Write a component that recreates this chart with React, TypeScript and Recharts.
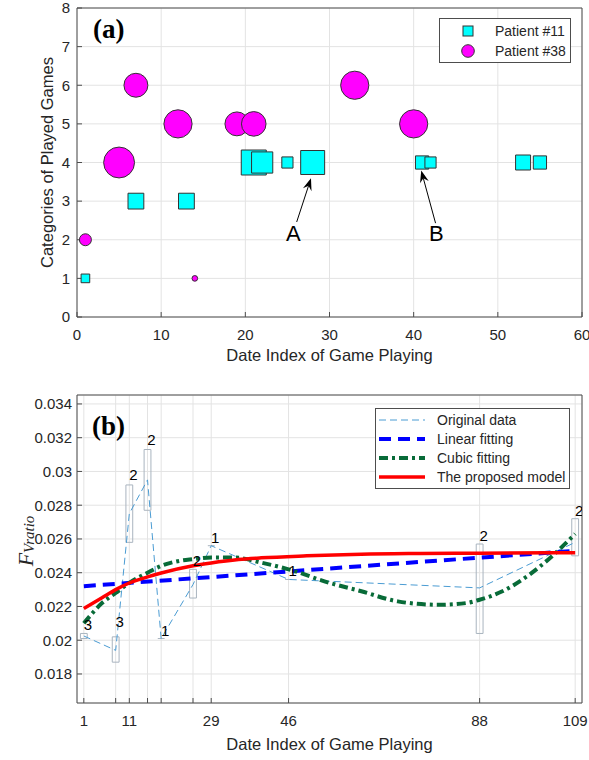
import React from 'react';
import {
  ScatterChart,
  ComposedChart,
  Scatter,
  Line,
  XAxis,
  YAxis,
  ZAxis,
  CartesianGrid,
  ReferenceArea,
  ReferenceLine,
  ReferenceDot,
} from 'recharts';

const FONT = '"Liberation Sans", Arial, sans-serif';
const SERIF = '"Liberation Serif", "Times New Roman", serif';
const AXIS = '#4d4d4d';
const GRID = '#e3e3e3';
const INK = '#262626';

// ---- panel (a): categories of played games ----
const xTicksA = [0, 10, 20, 30, 40, 50, 60];
const yTicksA = [0, 1, 2, 3, 4, 5, 6, 7, 8];

const p11Date = [1, 7, 13, 21, 22, 25, 28, 41, 42, 53, 55];
const p11Category = [1, 3, 3, 4, 4, 4, 4, 4, 4, 4, 4];
const p11Weight = [3, 10, 10, 25, 18, 5, 23, 7, 5, 9, 7];

const p38Date = [1, 5, 7, 12, 14, 19, 21, 33, 40];
const p38Category = [2, 4, 6, 5, 1, 5, 5, 6, 5];
const p38Weight = [4.5, 30, 18, 25, 1, 18, 19, 25, 25];

const notes = [
  { text: 'A', tail: [26.1, 2.46], tip: [27.8, 3.59], at: [25.7, 2.17] },
  { text: 'B', tail: [42.6, 2.43], tip: [40.9, 3.79], at: [42.7, 2.17] },
];

// ---- panel (b): F_Vratio per date index ----
const dateIdx = [1, 8, 11, 15, 18, 25, 29, 46, 88, 109];
const labeledDates = [1, 11, 29, 46, 88, 109];
const yTicksB = [0.018, 0.02, 0.022, 0.024, 0.026, 0.028, 0.03, 0.032, 0.034];

const sessionCount = [3, 3, 2, 2, 1, 2, 1, 1, 2, 2];
const fRatio = [0.02025, 0.0194, 0.0275, 0.0295, 0.0201, 0.0233, 0.0256, 0.0236, 0.0231, 0.0258];
const fLow = [0.0201, 0.0187, 0.0258, 0.0277, 0.0201, 0.0225, 0.0256, 0.0236, 0.0204, 0.025];
const fHigh = [0.0204, 0.0202, 0.0292, 0.0313, 0.0201, 0.0242, 0.0256, 0.0236, 0.0257, 0.0272];
const fMax = [0.0204, 0.0206, 0.0293, 0.0314, 0.0201, 0.0242, 0.0256, 0.0236, 0.0257, 0.0272];

const linearX = [1, 109];
const linearY = [0.0232, 0.0253];

const cubicX = [1, 5, 8, 11, 15, 18, 22, 25, 29, 34, 40, 46, 55, 62, 70, 79, 85, 88, 93, 99, 104, 109];
const cubicY = [
  0.021, 0.0222, 0.0228, 0.0234, 0.024, 0.0244, 0.0247, 0.0248, 0.0249, 0.0249, 0.0246, 0.0242,
  0.0234, 0.0229, 0.0223, 0.0221, 0.0222, 0.0224, 0.0229, 0.0239, 0.025, 0.0263,
];

const modelX = [1, 5, 8, 11, 15, 18, 25, 29, 35, 40, 50, 62, 75, 88, 109];
const modelY = [
  0.02188, 0.02252, 0.023, 0.02339, 0.02375, 0.02398, 0.02441, 0.02458, 0.02478, 0.02488, 0.025,
  0.0251, 0.02514, 0.02516, 0.02518,
];

const p11 = p11Date.map((x, i) => ({ x, y: p11Category[i], z: p11Weight[i] }));
const p38 = p38Date.map((x, i) => ({ x, y: p38Category[i], z: p38Weight[i] }));

const original = dateIdx.map((x, i) => ({ x, y: fRatio[i] }));
const countMarks = dateIdx.map((x, i) => ({ x, y: fMax[i], n: sessionCount[i] }));
const linear = linearX.map((x, i) => ({ x, y: linearY[i] }));
const cubic = cubicX.map((x, i) => ({ x, y: cubicY[i] }));
const model = modelX.map((x, i) => ({ x, y: modelY[i] }));

const tickStyle = { fill: INK, fontSize: 15, fontFamily: FONT };
const TITLE = 16.5;

const Arrow = (p: any) => {
  const { x1, y1, x2, y2 } = p;
  const a = Math.atan2(y2 - y1, x2 - x1);
  const L = 12;
  const W = 4.5;
  const cos = Math.cos(a);
  const sin = Math.sin(a);
  const bx = x2 - L * cos;
  const by = y2 - L * sin;
  const nx = bx + 0.35 * L * cos;
  const ny = by + 0.35 * L * sin;
  return (
    <g>
      <line x1={x1} y1={y1} x2={nx} y2={ny} stroke="#000" strokeWidth={1} />
      <polygon
        points={`${x2},${y2} ${bx - sin * W},${by + cos * W} ${nx},${ny} ${bx + sin * W},${by - cos * W}`}
        fill="#000"
      />
    </g>
  );
};

const CountLabel = (p: any) => (
  <text x={p.cx + 4} y={p.cy - 3} textAnchor="middle" fontSize={15} fill="#000" fontFamily={FONT}>
    {p.payload.n}
  </text>
);

function PanelA() {
  return (
    <ScatterChart width={589} height={375} margin={{ top: 7, right: 6, bottom: 8, left: 17 }}>
      <CartesianGrid stroke={GRID} />
      <XAxis
        type="number"
        dataKey="x"
        domain={[0, 60]}
        allowDataOverflow
        ticks={xTicksA}
        interval={0}
        stroke={AXIS}
        tick={tickStyle}
        tickSize={-5}
        tickMargin={17}
        height={50}
        label={(p: any) => (
          <text
            x={p.viewBox.x + p.viewBox.width / 2}
            y={p.viewBox.y + 44}
            textAnchor="middle"
            fontSize={TITLE}
            fill={INK}
            fontFamily={FONT}
          >
            Date Index of Game Playing
          </text>
        )}
      />
      <XAxis
        xAxisId="top"
        orientation="top"
        type="number"
        domain={[0, 60]}
        allowDataOverflow
        ticks={xTicksA}
        interval={0}
        height={1}
        stroke={AXIS}
        tick={false}
        tickSize={-5}
      />
      <YAxis
        type="number"
        dataKey="y"
        domain={[0, 8]}
        allowDataOverflow
        ticks={yTicksA}
        interval={0}
        width={60}
        stroke={AXIS}
        tick={tickStyle}
        tickSize={-5}
        tickMargin={12}
        label={(p: any) => {
          const x = p.viewBox.x + 30;
          const y = p.viewBox.y + p.viewBox.height / 2;
          return (
            <text
              x={x}
              y={y}
              transform={`rotate(-90 ${x} ${y})`}
              textAnchor="middle"
              dominantBaseline="central"
              fontSize={TITLE}
              fill={INK}
              fontFamily={FONT}
            >
              Categories of Played Games
            </text>
          );
        }}
      />
      <YAxis
        yAxisId="right"
        orientation="right"
        type="number"
        domain={[0, 8]}
        allowDataOverflow
        ticks={yTicksA}
        interval={0}
        width={1}
        stroke={AXIS}
        tick={false}
        tickSize={-5}
      />
      <ZAxis type="number" dataKey="z" domain={[0, 30]} range={[0, 750]} />
      <Scatter data={p11} shape="square" fill="#00ffff" stroke="#333" strokeWidth={1} isAnimationActive={false} />
      <Scatter data={p38} shape="circle" fill="#ff00ff" stroke="#333" strokeWidth={1} isAnimationActive={false} />
      {notes.map((n) => (
        <ReferenceLine
          key={'l' + n.text}
          segment={[
            { x: n.tail[0], y: n.tail[1] },
            { x: n.tip[0], y: n.tip[1] },
          ]}
          shape={Arrow}
          ifOverflow="visible"
        />
      ))}
      {notes.map((n) => (
        <ReferenceDot
          key={'t' + n.text}
          x={n.at[0]}
          y={n.at[1]}
          ifOverflow="visible"
          shape={(p: any) => (
            <text
              x={p.cx}
              y={p.cy}
              textAnchor="middle"
              dominantBaseline="central"
              fontSize={22}
              fill="#000"
              fontFamily={FONT}
            >
              {n.text}
            </text>
          )}
        />
      ))}
    </ScatterChart>
  );
}

function PanelB() {
  return (
    <ComposedChart width={589} height={380} margin={{ top: 14, right: 6, bottom: 7, left: 17 }}>
      <CartesianGrid stroke={GRID} />
      <XAxis
        type="number"
        dataKey="x"
        domain={[-0.5, 110.5]}
        allowDataOverflow
        ticks={dateIdx}
        interval={0}
        tickFormatter={(v: number) => (labeledDates.includes(v) ? String(v) : '')}
        stroke={AXIS}
        tick={tickStyle}
        tickSize={-5}
        tickMargin={17}
        height={50}
        label={(p: any) => (
          <text
            x={p.viewBox.x + p.viewBox.width / 2}
            y={p.viewBox.y + 47}
            textAnchor="middle"
            fontSize={TITLE}
            fill={INK}
            fontFamily={FONT}
          >
            Date Index of Game Playing
          </text>
        )}
      />
      <XAxis
        xAxisId="top"
        orientation="top"
        type="number"
        domain={[-0.5, 110.5]}
        allowDataOverflow
        ticks={dateIdx}
        interval={0}
        height={1}
        stroke={AXIS}
        tick={false}
        tickSize={-5}
      />
      <YAxis
        type="number"
        domain={[0.01628, 0.03453]}
        allowDataOverflow
        ticks={yTicksB}
        interval={0}
        tickFormatter={(v: number) => String(+v.toFixed(3))}
        width={60}
        stroke={AXIS}
        tick={tickStyle}
        tickSize={-5}
        tickMargin={10}
        label={(p: any) => {
          const x = p.viewBox.x + 8;
          const y = p.viewBox.y + p.viewBox.height / 2 - 8;
          return (
            <text
              x={x}
              y={y}
              transform={`rotate(-90 ${x} ${y})`}
              textAnchor="middle"
              dominantBaseline="central"
              fill={INK}
              fontFamily={SERIF}
              fontStyle="italic"
            >
              <tspan fontSize={22}>F</tspan>
              <tspan fontSize={15} dy={4}>
                Vratio
              </tspan>
            </text>
          );
        }}
      />
      <YAxis
        yAxisId="right"
        orientation="right"
        type="number"
        domain={[0.01628, 0.03453]}
        allowDataOverflow
        ticks={yTicksB}
        interval={0}
        width={1}
        stroke={AXIS}
        tick={false}
        tickSize={-5}
      />
      {dateIdx.map((x, i) =>
        fHigh[i] > fLow[i] ? (
          <ReferenceArea
            key={'b' + x}
            x1={x - 0.75}
            x2={x + 0.75}
            y1={fLow[i]}
            y2={fHigh[i]}
            fill="none"
            stroke="#a9b4bf"
            strokeWidth={1}
            fillOpacity={0}
          />
        ) : (
          <ReferenceLine
            key={'b' + x}
            segment={[
              { x: x - 0.75, y: fLow[i] },
              { x: x + 0.75, y: fLow[i] },
            ]}
            stroke="#a9b4bf"
            strokeWidth={1}
          />
        ),
      )}
      <Line
        data={original}
        dataKey="y"
        type="linear"
        stroke="#4b9cd3"
        strokeWidth={1}
        strokeDasharray="7 4"
        dot={false}
        activeDot={false}
        isAnimationActive={false}
      />
      <Line
        data={linear}
        dataKey="y"
        type="linear"
        stroke="#0000ff"
        strokeWidth={4}
        strokeDasharray="12 7"
        dot={false}
        activeDot={false}
        isAnimationActive={false}
      />
      <Line
        data={cubic}
        dataKey="y"
        type="monotone"
        stroke="#086b38"
        strokeWidth={4}
        strokeDasharray="9 4 3 4"
        dot={false}
        activeDot={false}
        isAnimationActive={false}
      />
      <Line
        data={model}
        dataKey="y"
        type="monotone"
        stroke="#ff0000"
        strokeWidth={3.5}
        dot={false}
        activeDot={false}
        isAnimationActive={false}
      />
      <Scatter data={countMarks} dataKey="y" shape={CountLabel} isAnimationActive={false} />
    </ComposedChart>
  );
}

function Overlay() {
  const rowsB = [
    { name: 'Original data', stroke: '#4b9cd3', w: 1, dash: '7 4' },
    { name: 'Linear fitting', stroke: '#0000ff', w: 4, dash: '12 7' },
    { name: 'Cubic fitting', stroke: '#086b38', w: 4, dash: '9 4 3 4' },
    { name: 'The proposed model', stroke: '#ff0000', w: 3.5, dash: undefined },
  ];
  return (
    <svg
      width={589}
      height={760}
      style={{ position: 'absolute', left: 0, top: 0, pointerEvents: 'none' }}
    >
      <text x={93} y={38} fontFamily={SERIF} fontWeight="bold" fontSize={27} fill="#000">
        (a)
      </text>
      <text x={92} y={435} fontFamily={SERIF} fontWeight="bold" fontSize={27} fill="#000">
        (b)
      </text>

      <rect x={439.5} y={18.5} width={131} height={44} fill="#fff" stroke={AXIS} />
      <rect x={463} y={26} width={10} height={10} fill="#00ffff" stroke="#333" />
      <text x={495} y={36} fontSize={14} fill={INK} fontFamily={FONT}>
        Patient #11
      </text>
      <circle cx={468} cy={51} r={6.3} fill="#ff00ff" stroke="#333" />
      <text x={495} y={56} fontSize={14} fill={INK} fontFamily={FONT}>
        Patient #38
      </text>

      <rect x={375.5} y={408.5} width={194} height={80} fill="#fff" stroke={AXIS} />
      {rowsB.map((r, i) => {
        const cy = 420 + i * 19;
        return (
          <g key={r.name}>
            <line x1={379} x2={425} y1={cy} y2={cy} stroke={r.stroke} strokeWidth={r.w} strokeDasharray={r.dash} />
            <text x={437} y={cy + 5} fontSize={14} fill={INK} fontFamily={FONT}>
              {r.name}
            </text>
          </g>
        );
      })}
    </svg>
  );
}

export default function App() {
  return (
    <div style={{ position: 'absolute', left: 0, top: 0, width: 589, height: 760, background: '#fff' }}>
      <div style={{ position: 'absolute', left: 0, top: 0 }}>
        <PanelA />
      </div>
      <div style={{ position: 'absolute', left: 0, top: 380 }}>
        <PanelB />
      </div>
      <Overlay />
    </div>
  );
}
